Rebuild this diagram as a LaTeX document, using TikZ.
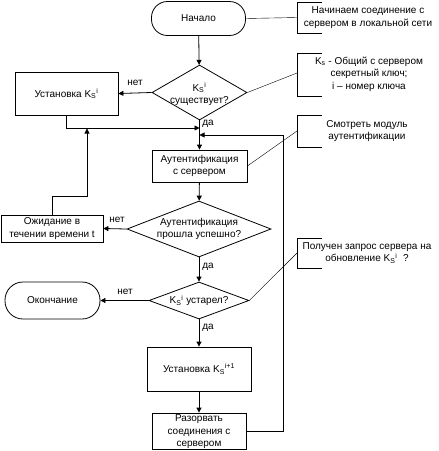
\documentclass[tikz,border=0pt]{standalone}
\usepackage{fontspec}
\setmainfont{Liberation Sans}
\usetikzlibrary{shapes.geometric,arrows.meta}
\newcommand{\kse}[1]{K\textsubscript{S}\textsuperscript{#1}}
\tikzset{
  box/.style={draw,thick,minimum width=#1,inner sep=0pt,align=center},
  term/.style={draw,thick,rounded corners=16pt,minimum width=94pt,minimum height=34pt,align=center},
  dec/.style={draw,thick,diamond,inner sep=0pt},
  txt/.style={align=center,inner sep=0pt},
  arr/.style={-{Triangle[length=5pt,width=5pt]},thick},
  brk/.style={thick}
}
\begin{document}
\begin{tikzpicture}[x=1pt,y=-1pt,font=\fontsize{10}{12.5}\selectfont]
    \useasboundingbox (0,0) rectangle (439,451);

    \node[term] (st) at (198.5,18.5) {Начало};
    \node[dec,minimum width=95pt,minimum height=55pt] (d1) at (199.5,92.5) {};
    \node[txt] (d1t) at (199.5,94) {\kse{i}\\существует?};
    \node[box=103pt,minimum height=43pt] (b1) at (66.5,93.5) {Установка \kse{i}};
    \node[box=95pt,minimum height=32pt] (au) at (199.5,166) {Аутентификация\\с сервером};
    \node[dec,minimum width=144pt,minimum height=56pt] (d2) at (199,229) {};
    \node[txt] (d2t) at (199,229) {Аутентификация\\прошла успешно?};
    \node[box=102pt,minimum height=27pt] (w) at (52,228.5) {Ожидание в\\течении времени t};
    \node[dec,minimum width=100pt,minimum height=37pt] (d3) at (199,300.5) {};
    \node[txt] (d3t) at (199,300.5) {\kse{i} устарел?};
    \node[term,minimum width=95pt,minimum height=37pt,rounded corners=18pt] (en) at (52.5,300.5) {Окончание};
    \node[box=104pt,minimum height=44pt] (b2) at (199,369) {Установка \kse{i+1}};
    \node[box=94pt,minimum height=36pt,text depth=0pt] (rz) at (199,431) {Разорвать\\соединения с\\сервером};

    \node (n1) at (135,83) {нет};
    \node (y1) at (208,124) {да};
    \node (n2) at (117,220) {нет};
    \node (y2) at (208,267) {да};
    \node (n3) at (125,292) {нет};
    \node (y3) at (208,328) {да};

    \coordinate (j1) at (199.5,128);
    \coordinate (j2) at (87,128.5);
    \coordinate (j3) at (199.5,135);

    \draw[arr] (st) -- (d1);
    \draw[arr] (d1.west) -- (b1.east);
    \draw[arr] (d1.south) -- (au.north);
    \draw[arr] (b1.south) |- (j1);
    \draw[arr] (w.north) -- ++(0,-18) -| (j2);
    \draw[arr] (au) -- (d2);
    \draw[arr] (d2.west) -- (w.east);
    \draw[arr] (d2.south) -- (d3.north);
    \draw[arr] (d3.west) -- (en.east);
    \draw[arr] (d3.south) -- (b2.north);
    \draw[arr] (b2) -- (rz);
    \draw[arr] (rz.east) -- (283,431) -- (283,135) -- (j3);

    \node[txt] (t1) at (368,17.5) {Начинаем соединение с\\сервером в локальной сети};
    \node[txt] (t2) at (369,74) {K\textsubscript{s} - Общий с сервером\\секретный ключ;\\i – номер ключа};
    \node[txt] (t3) at (367,131) {Смотреть модуль\\аутентификации};
    \node[txt] (t4) at (367,253) {Получен запрос сервера на\\обновление \kse{i}\ \ ?};

    \coordinate (c1) at (297,17.5);
    \coordinate (c2) at (297,73);
    \coordinate (c3) at (297,131);
    \coordinate (c4) at (297,253);

    \draw[brk] (322,2) -- (297,2) -- (297,33) -- (322,33);
    \draw[brk] (322,53) -- (297,53) -- (297,96) -- (322,96);
    \draw[brk] (322,115) -- (297,115) -- (297,147) -- (322,147);
    \draw[brk] (322,238) -- (297,238) -- (297,268) -- (322,268);

    \draw (st.east) -- (c1);
    \draw (d1.east) -- (c2);
    \draw (au.east) -- (c3);
    \draw (d3.east) -- (c4);
  \end{tikzpicture}
\end{document}
